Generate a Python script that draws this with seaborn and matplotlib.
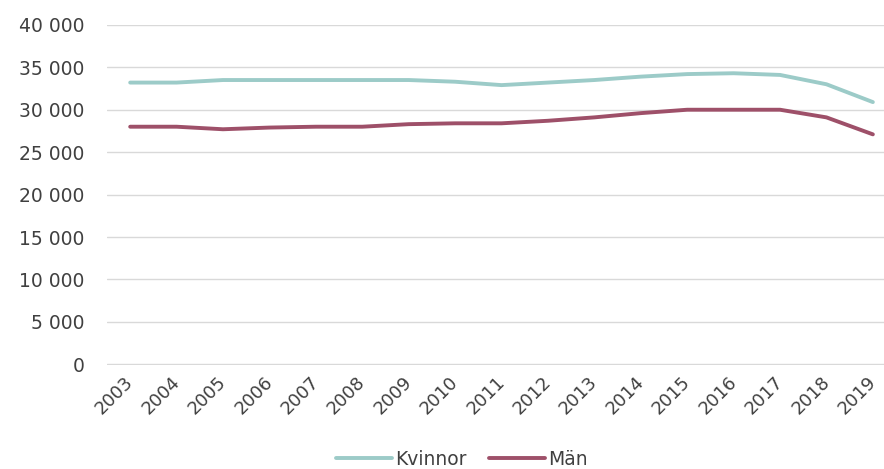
import matplotlib
matplotlib.use("Agg")
import matplotlib.pyplot as plt
import matplotlib.ticker as mticker
import matplotlib.transforms as mtransforms
import seaborn as sns
import pandas as pd

years = [str(y) for y in range(2003, 2020)]
kvinnor = [33200, 33200, 33500, 33500, 33500, 33500, 33500, 33300, 32900,
           33200, 33500, 33900, 34200, 34300, 34100, 33000, 30900]
man = [28000, 28000, 27700, 27900, 28000, 28000, 28300, 28400, 28400,
       28700, 29100, 29600, 30000, 30000, 30000, 29100, 27100]
series_names = ["Kvinnor", "Män"]
colors = ["#9ccbc8", "#9e5069"]

df = pd.DataFrame({"År": years, series_names[0]: kvinnor, series_names[1]: man})
long = df.melt(id_vars="År", var_name="Kön", value_name="Antal")

sns.set_theme(style="white")
plt.rcParams["font.family"] = ["DejaVu Sans"]

FS = 13.5
TXT = "#404040"

fig = plt.figure(figsize=(8.84, 4.69), dpi=100)
ax = fig.add_axes([0.121, 0.222, 0.879, 0.725])

sns.lineplot(data=long, x="År", y="Antal", hue="Kön", palette=colors,
             linewidth=2.8, ax=ax, legend=False, sort=False)

ax.set_ylim(-60, 40000)
ax.set_xlim(-0.5, 16.24)
ax.yaxis.set_major_locator(mticker.MultipleLocator(5000))
ax.yaxis.set_major_formatter(
    mticker.FuncFormatter(lambda v, _: f"{int(v):,}".replace(",", " ")))
ax.grid(axis="y", color="#d9d9d9", linewidth=1)
ax.set_axisbelow(True)
for s in ax.spines.values():
    s.set_visible(False)
ax.set_xlabel("")
ax.set_ylabel("")
ax.tick_params(axis="y", length=0, pad=16, labelsize=FS, labelcolor=TXT)
ax.tick_params(axis="x", length=0, pad=6, labelsize=13, labelcolor=TXT)
shift = mtransforms.ScaledTranslation(-6 / 100, 0, fig.dpi_scale_trans)
for lbl in ax.get_xticklabels():
    lbl.set_rotation(45)
    lbl.set_ha("right")
    lbl.set_va("top")
    lbl.set_rotation_mode("anchor")
    lbl.set_transform(lbl.get_transform() + shift)

handles = [plt.Line2D([], [], color=c, linewidth=2.8) for c in colors]
fig.legend(handles, series_names, loc="lower center", ncol=2, frameon=False,
           bbox_to_anchor=(0.522, -0.036), fontsize=FS, handlelength=3.0,
           handletextpad=0.15, columnspacing=1.2, labelcolor=TXT)

fig.savefig("out.png", dpi=100)
